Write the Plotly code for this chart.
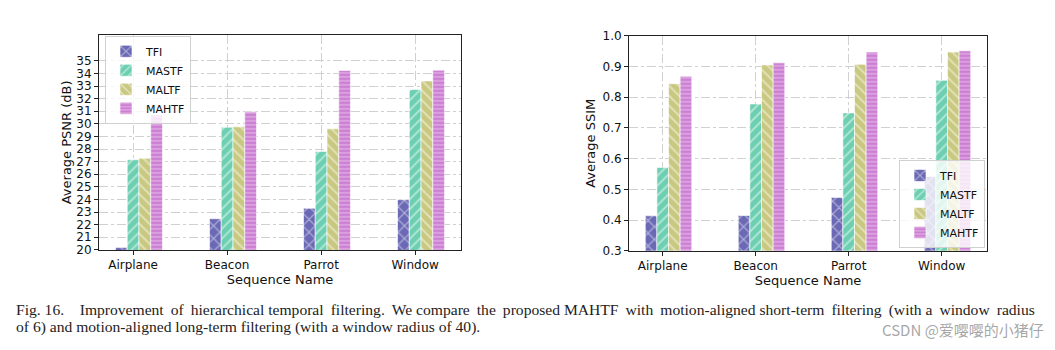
import plotly.graph_objects as go

categories = ["Airplane", "Beacon", "Parrot", "Window"]
methods = ["TFI", "MASTF", "MALTF", "MAHTF"]

psnr_tfi = [20.18, 22.47, 23.30, 23.98]
psnr_mastf = [27.15, 29.73, 27.80, 32.72]
psnr_maltf = [27.27, 29.76, 29.60, 33.40]
psnr_mahtf = [30.70, 30.95, 34.24, 34.26]

ssim_tfi = [0.414, 0.415, 0.474, 0.542]
ssim_mastf = [0.571, 0.778, 0.749, 0.855]
ssim_maltf = [0.844, 0.905, 0.907, 0.947]
ssim_mahtf = [0.868, 0.912, 0.947, 0.951]

psnr_ticks = list(range(20, 36))
ssim_ticks = [0.3, 0.4, 0.5, 0.6, 0.7, 0.8, 0.9, 1.0]

colors = ["#6B69B5", "#6DCFB1", "#C9C880", "#CC7FD3"]
shapes = ["x", "/", "\\", "-"]
psizes = [9, 7, 7, 4]
W = 0.125
offsets = [-1.5 * W, -0.5 * W, 0.5 * W, 1.5 * W]  # left edge of each bar relative to tick

xpos = list(range(len(categories)))

fig = go.Figure()

psnr_series = [psnr_tfi, psnr_mastf, psnr_maltf, psnr_mahtf]
ssim_series = [ssim_tfi, ssim_mastf, ssim_maltf, ssim_mahtf]


def bar(i, ys, xa, ya, leg):
    return go.Bar(
        x=xpos, y=ys, name=methods[i], width=W, offset=offsets[i],
        marker=dict(color=colors[i], line=dict(color="white", width=0.6),
                    pattern=dict(shape=shapes[i], fgcolor="white", bgcolor=colors[i],
                                 size=psizes[i], solidity=0.25, fillmode="overlay")),
        xaxis=xa, yaxis=ya, legend=leg,
    )


for i in range(4):
    fig.add_trace(bar(i, psnr_series[i], "x", "y", "legend"))
for i in range(4):
    fig.add_trace(bar(i, ssim_series[i], "x2", "y2", "legend2"))

FONT = "DejaVu Sans"
axis_common = dict(showline=True, linecolor="#222", linewidth=1, mirror=True,
                   ticks="outside", ticklen=4, tickcolor="#222",
                   showgrid=True, gridcolor="#d0d0d0", griddash="dashdot", gridwidth=0.8,
                   zeroline=False, tickfont=dict(family=FONT, size=12, color="#111"))

H = 350.0
fig.update_layout(
    width=1055, height=350, margin=dict(l=0, r=0, t=0, b=0),
    paper_bgcolor="white", plot_bgcolor="white", barmode="overlay",
    font=dict(family=FONT, color="#111"),
    xaxis=dict(axis_common, domain=[99 / 1055, 461 / 1055], range=[-0.3625, 3.4875],
               tickvals=xpos, ticktext=categories, anchor="y",
               title=dict(text="Sequence Name", font=dict(family=FONT, size=13), standoff=0)),
    yaxis=dict(axis_common, domain=[(H - 253) / H, (H - 29) / H], range=[20, 37.06],
               tickvals=psnr_ticks, anchor="x",
               title=dict(text="Average PSNR (dB)", font=dict(family=FONT, size=13), standoff=1)),
    xaxis2=dict(axis_common, domain=[629 / 1055, 987 / 1055], range=[-0.3625, 3.4875],
                tickvals=xpos, ticktext=categories, anchor="y2",
                title=dict(text="Sequence Name", font=dict(family=FONT, size=13), standoff=0)),
    yaxis2=dict(axis_common, domain=[(H - 254) / H, (H - 30) / H], range=[0.3, 1.0],
                tickvals=ssim_ticks, tickformat=".1f", anchor="x2",
                title=dict(text="Average SSIM", font=dict(family=FONT, size=13), standoff=3)),
    legend=dict(x=105 / 1055, y=(H - 30) / H, xanchor="left", yanchor="top",
                bgcolor="rgba(255,255,255,0.8)", bordercolor="#d0d0d0", borderwidth=1,
                font=dict(family=FONT, size=11, color="#111"), tracegroupgap=0,
                itemwidth=30),
    legend2=dict(x=985 / 1055, y=(H - 251) / H, xanchor="right", yanchor="bottom",
                 bgcolor="rgba(255,255,255,0.8)", bordercolor="#d0d0d0", borderwidth=1,
                 font=dict(family=FONT, size=11, color="#111"), tracegroupgap=0,
                 itemwidth=30),
    showlegend=True,
)

sp = "&nbsp;"
ts = "\u2009"
words1 = ("Improvement of hierarchical temporal filtering. We compare the proposed "
          "MAHTF with motion-aligned short-term filtering (with a window radius").split(" ")
body = words1[0]
for k, w in enumerate(words1[1:]):
    body += (" " + ts if k % 3 != 2 else " ") + w
caption1 = "Fig. 16." + sp * 4 + body
caption2 = "of 6) and motion-aligned long-term filtering (with a window radius of 40)."
fig.add_annotation(text=caption1, x=14 / 1055, y=(H - 316) / H, xref="paper", yref="paper",
                   xanchor="left", yanchor="middle", showarrow=False,
                   font=dict(family="Liberation Serif", size=15.6, color="#222"))
fig.add_annotation(text=caption2, x=14 / 1055, y=(H - 333) / H, xref="paper", yref="paper",
                   xanchor="left", yanchor="middle", showarrow=False,
                   font=dict(family="Liberation Serif", size=15.6, color="#222"))
fig.add_annotation(text="CSDN @爱嘤嘤的小猪仔", x=1046 / 1055, y=(H - 336) / H, xref="paper", yref="paper",
                   xanchor="right", yanchor="middle", showarrow=False,
                   font=dict(family="Noto Sans CJK SC", size=15, color="rgba(150,150,150,0.85)"))

fig.write_html("out.html")
